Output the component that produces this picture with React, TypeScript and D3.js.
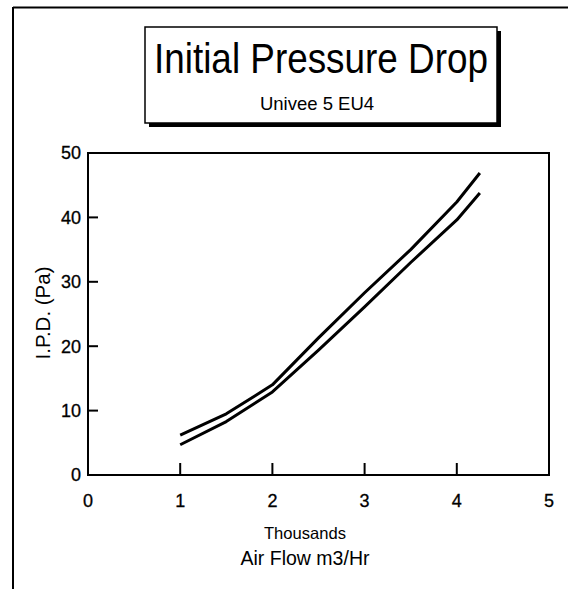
import React from 'react';
import * as d3 from 'd3';

// air flow in thousands of m3/Hr
const airFlow = [1, 1.5, 2, 2.5, 3, 3.5, 4, 4.25];
const upperIPD = [6.2, 9.5, 14, 21.3, 28.3, 35, 42.4, 46.9];
const lowerIPD = [4.7, 8.3, 12.9, 19.4, 26.1, 33, 39.6, 43.8];
const xTicks = [0, 1, 2, 3, 4, 5];
const yTicks = [0, 10, 20, 30, 40, 50];

const App = () => {
  const width = 568;
  const height = 589;
  const plot = { left: 88, right: 549, top: 153, bottom: 475 };
  const font = 'Arial, "Liberation Sans", sans-serif';

  const xScale = d3.scaleLinear().domain([0, 5]).range([plot.left, plot.right]);
  const yScale = d3.scaleLinear().domain([0, 50]).range([plot.bottom, plot.top]);

  const line = d3.line<number>()
    .x((d, i) => xScale(airFlow[i]))
    .y(d => yScale(d));

  const titleBox = { x: 145, y: 27, w: 352, h: 96 };
  const labelX = 305;

  return (
    <svg width={width} height={height} style={{ position: 'absolute', left: 0, top: 0 }} fontFamily={font}>
      <rect x={0} y={0} width={width} height={height} fill='#fff' />
      {/* outer frame, only top and left edges show */}
      <line x1={13} x2={width} y1={7.5} y2={7.5} stroke='#000' strokeWidth={2} />
      <line x1={13} x2={13} y1={7} y2={height} stroke='#000' strokeWidth={2} />

      {/* title box with drop shadow */}
      <rect x={titleBox.x + 4} y={titleBox.y + 4} width={titleBox.w} height={titleBox.h} fill='#000' />
      <rect x={titleBox.x} y={titleBox.y} width={titleBox.w} height={titleBox.h} fill='#fff' stroke='#000' strokeWidth={1.5} />
      <text x={321} y={73} textAnchor='middle' fontSize={42}
        textLength={334} lengthAdjust='spacingAndGlyphs'>Initial Pressure Drop</text>
      <text x={317} y={110} textAnchor='middle' fontSize={18.5}>Univee 5 EU4</text>

      {/* plot frame */}
      <rect x={plot.left} y={plot.top} width={plot.right - plot.left} height={plot.bottom - plot.top}
        fill='none' stroke='#000' strokeWidth={2} />

      {yTicks.map(d =>
        <g key={`y-${d}`}>
          {d > 0 && d < 50 && <line x1={plot.left} x2={plot.left + 10} y1={yScale(d)} y2={yScale(d)} stroke='#000' strokeWidth={2} />}
          <text x={plot.left - 7} y={yScale(d)} dy='0.36em' textAnchor='end' fontSize={18} stroke='#000' strokeWidth={0.3}>{d}</text>
        </g>
      )}
      {xTicks.map(d =>
        <g key={`x-${d}`}>
          {d > 0 && d < 5 && <line x1={xScale(d)} x2={xScale(d)} y1={plot.bottom} y2={plot.bottom - 12} stroke='#000' strokeWidth={2} />}
          <text x={xScale(d)} y={507} textAnchor='middle' fontSize={18} stroke='#000' strokeWidth={0.3}>{d}</text>
        </g>
      )}

      <path d={line(upperIPD) || ''} fill='none' stroke='#000' strokeWidth={3} strokeLinejoin='round' />
      <path d={line(lowerIPD) || ''} fill='none' stroke='#000' strokeWidth={3} strokeLinejoin='round' />

      <text transform={`translate(50, 313) rotate(-90)`} textAnchor='middle' fontSize={20.5}>I.P.D. (Pa)</text>
      <text x={labelX} y={539} textAnchor='middle' fontSize={16.5}
        textLength={82} lengthAdjust='spacingAndGlyphs'>Thousands</text>
      <text x={labelX} y={565} textAnchor='middle' fontSize={19.5}>Air Flow m3/Hr</text>
    </svg>
  );
};

export default App;
